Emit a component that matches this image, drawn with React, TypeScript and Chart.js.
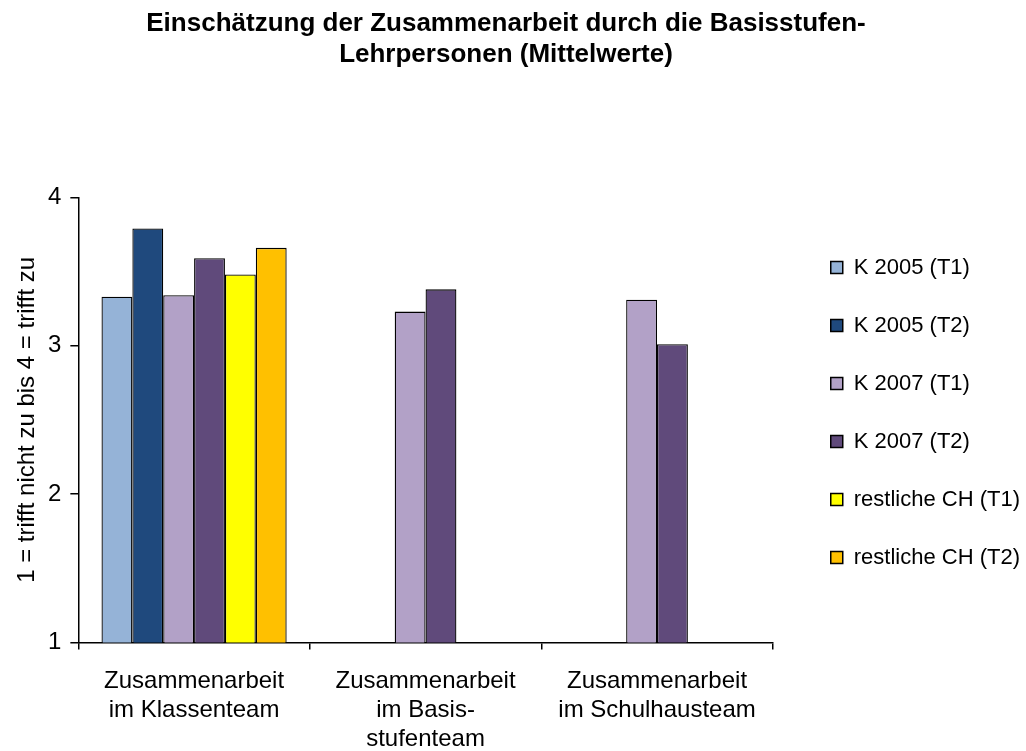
import React, { useEffect, useRef } from "react";
import { Chart, registerables } from "chart.js";

Chart.register(...registerables);

const categories: string[][] = [
  ["Zusammenarbeit", "im Klassenteam"],
  ["Zusammenarbeit", "im Basis-", "stufenteam"],
  ["Zusammenarbeit", "im Schulhausteam"],
];

const seriesNames = [
  "K 2005 (T1)",
  "K 2005 (T2)",
  "K 2007 (T1)",
  "K 2007 (T2)",
  "restliche CH (T1)",
  "restliche CH (T2)",
];

const k2005T1 = [3.33, 1, 1];
const k2005T2 = [3.79, 1, 1];
const k2007T1 = [3.34, 3.23, 3.31];
const k2007T2 = [3.59, 3.38, 3.01];
const restT1 = [3.48, 1, 1];
const restT2 = [3.66, 1, 1];

const seriesColors = ["#95B3D7", "#1F497D", "#B2A1C7", "#604A7B", "#FFFF00", "#FFC000"];

const yTicks = [1, 2, 3, 4];

const titleLines = [
  "Einschätzung der Zusammenarbeit durch die Basisstufen-",
  "Lehrpersonen (Mittelwerte)",
];
const yTitle = "1 = trifft nicht zu bis 4 = trifft zu";

const FONT = "'Liberation Sans', Arial, sans-serif";

const LEGEND_DX = 22;
const LEGEND_DY = 27;

const legendShift = {
  id: "legendShift",
  afterLayout(chart: any) {
    const l = chart.legend;
    if (!l) return;
    l.left += LEGEND_DX;
    l.right += LEGEND_DX;
    l.top += LEGEND_DY;
    l.bottom += LEGEND_DY;
  },
};

export default function App() {
  const ref = useRef<HTMLCanvasElement | null>(null);
  useEffect(() => {
    if (!ref.current) return;
    const values = [k2005T1, k2005T2, k2007T1, k2007T2, restT1, restT2];
    const chart = new Chart(ref.current, {
      type: "bar",
      data: {
        labels: categories,
        datasets: values.map((v, i) => ({
          label: seriesNames[i],
          data: v,
          backgroundColor: seriesColors[i],
          borderColor: "#000000",
          borderWidth: 1.3,
          borderSkipped: "bottom",
          categoryPercentage: 0.8,
          barPercentage: 1,
        })),
      },
      plugins: [legendShift],
      options: {
        responsive: false,
        animation: false,
        devicePixelRatio: 1,
        layout: { padding: { left: 4, right: 18, bottom: -20, top: 0 } },
        plugins: {
          tooltip: { enabled: false },
          title: {
            display: true,
            text: titleLines,
            color: "#000",
            font: { family: FONT, size: 26, weight: "bold", lineHeight: 1.2 },
            padding: { top: 8, bottom: 127 },
          },
          legend: {
            position: "right",
            align: "center",
            labels: {
              color: "#000",
              font: { family: FONT, size: 22 },
              boxWidth: 12,
              boxHeight: 12,
              padding: 36,
              generateLabels: (c: any) =>
                c.data.datasets.map((d: any, i: number) => ({
                  text: d.label,
                  fillStyle: d.backgroundColor,
                  strokeStyle: "#000",
                  lineWidth: 1.5,
                  datasetIndex: i,
                  hidden: false,
                  fontColor: "#000",
                })),
            },
          },
        },
        scales: {
          x: {
            grid: {
              display: true,
              drawOnChartArea: false,
              drawTicks: true,
              tickLength: 7,
              offset: true,
              color: "#000",
              lineWidth: 1.5,
            },
            border: { display: true, color: "#000", width: 1.5 },
            ticks: {
              color: "#000",
              font: { family: FONT, size: 24, lineHeight: 1.2 },
              maxRotation: 0,
              autoSkip: false,
              padding: 17.6,
            },
          },
          y: {
            min: 1,
            max: 4,
            afterBuildTicks: (s: any) => {
              s.ticks = yTicks.map((v) => ({ value: v }));
            },
            grid: {
              display: true,
              drawOnChartArea: false,
              drawTicks: true,
              tickLength: 8,
              color: "#000",
              lineWidth: 1.5,
            },
            border: { display: true, color: "#000", width: 1.5 },
            ticks: {
              color: "#000",
              font: { family: FONT, size: 24 },
              padding: 9,
            },
            title: {
              display: true,
              text: yTitle,
              color: "#000",
              font: { family: FONT, size: 24, lineHeight: 1.0 },
              padding: { top: 11, bottom: 0 },
            },
          },
        },
      },
    });
    return () => chart.destroy();
  }, []);
  return (
    <div style={{ position: "absolute", left: 0, top: 0, width: 1026, height: 751, background: "#fff" }}>
      <canvas ref={ref} width={1026} height={751} style={{ display: "block" }} />
    </div>
  );
}
